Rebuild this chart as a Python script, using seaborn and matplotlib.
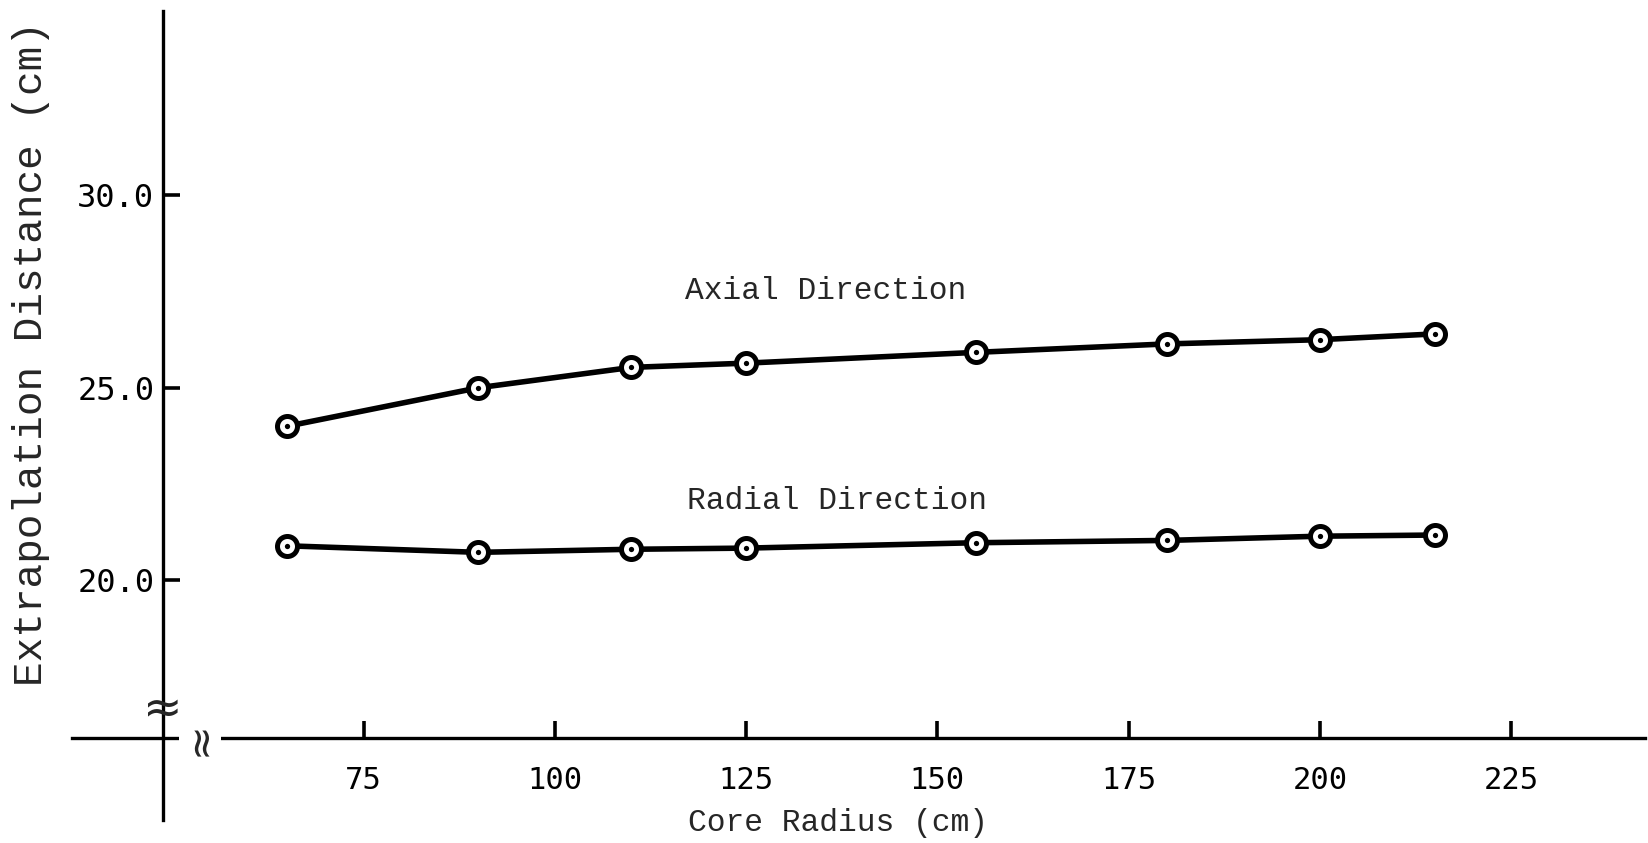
import numpy as np
import pandas as pd
import matplotlib
matplotlib.use("Agg")
import matplotlib.pyplot as plt
import seaborn as sns

# ---- data ----
core_radius = [65, 90, 110, 125, 155, 180, 200, 215]
axial = [24.0, 25.0, 25.53, 25.64, 25.92, 26.14, 26.25, 26.4]
radial = [20.89, 20.72, 20.8, 20.83, 20.97, 21.03, 21.14, 21.17]
x_ticks = [75, 100, 125, 150, 175, 200, 225]
y_ticks = [20.0, 25.0, 30.0]
y_tick_labels = ["20.0", "25.0", "30.0"]
series_labels = ["Axial Direction", "Radial Direction"]

df = pd.DataFrame({
    "Core Radius": core_radius * 2,
    "Distance": axial + radial,
    "Series": [series_labels[0]] * len(core_radius) + [series_labels[1]] * len(core_radius),
})

sns.set_theme(style="white")
plt.rcParams["font.family"] = ["Liberation Mono", "DejaVu Sans Mono"]

W, H = 1648, 843
fig = plt.figure(figsize=(W / 100, H / 100), dpi=100)
# axes placed in pixel coords: left 71.5, right 1645, top 10.5, bottom 820
ax = fig.add_axes([71.5 / W, 1 - 820 / H, (1645 - 71.5) / W, (820 - 10.5) / H])
ax.set_xlim(36.8, 242.5)
ax.set_ylim(13.76, 34.81)

sns.lineplot(data=df, x="Core Radius", y="Distance", units="Series", estimator=None,
             color="black", linewidth=4.0, ax=ax, legend=False, zorder=2)
sns.scatterplot(data=df, x="Core Radius", y="Distance", s=14.4 ** 2, marker="o",
                facecolor="white", edgecolor="black", linewidth=3.6, ax=ax,
                legend=False, zorder=3)
sns.scatterplot(data=df, x="Core Radius", y="Distance", s=3.8 ** 2, marker="o",
                color="black", linewidth=0, ax=ax, legend=False, zorder=4)

# spines as crossing axes
for s in ["top", "right"]:
    ax.spines[s].set_visible(False)
ax.spines["left"].set_position(("data", 48.8))
ax.spines["bottom"].set_position(("data", 15.89))
for s in ["left", "bottom"]:
    ax.spines[s].set_linewidth(2.4)
    ax.spines[s].set_color("black")

ax.set_xticks(x_ticks)
ax.set_xticklabels([str(v) for v in x_ticks], fontsize=22, family=["DejaVu Sans Mono"])
ax.set_yticks(y_ticks)
ax.set_yticklabels(y_tick_labels, fontsize=23, family=["DejaVu Sans Mono"])
ax.tick_params(axis="x", bottom=True, direction="in", length=12, width=2.6, pad=20,
               colors="black")
ax.tick_params(axis="y", left=True, direction="in", length=12, width=2.6, pad=6.5,
               colors="black")
ax.set_xlabel("")
ax.set_ylabel("")

fig.text(838 / W, 1 - 823 / H, "Core Radius (cm)", ha="center", va="center", fontsize=22.5)
fig.text(31.5 / W, 1 - 354 / H, "Extrapolation Distance (cm)", ha="center", va="center",
         rotation=90, fontsize=29.5)

ax.text(135.4, 27.52, series_labels[0], ha="center", va="center", fontsize=22.5)
ax.text(136.9, 22.05, series_labels[1], ha="center", va="center", fontsize=22.5)

# axis break marks
ax.text(48.8, 16.6, "≈", ha="center", va="center", fontsize=34, family=["DejaVu Sans"])
ax.text(53.6, 15.89, "≈", ha="center", va="center", fontsize=30, rotation=90,
        family=["DejaVu Sans"],
        bbox=dict(facecolor="white", edgecolor="none", pad=0.0))

fig.savefig("out.png", dpi=100, facecolor="white")
